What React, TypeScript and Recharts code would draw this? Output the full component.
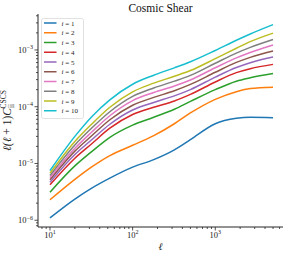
import React from "react";
import { LineChart, Line, XAxis, YAxis, Legend, Label } from "recharts";

// multipole values where the curves were read
const ells = [10, 20, 32, 53, 100, 180, 320, 500, 1000, 1800, 2650, 5000];

// l(l+1) C_ii for each tomographic bin i
const bin1 = [1.1e-6, 2.36e-6, 3.68e-6, 5.52e-6, 8.61e-6, 1.17e-5, 1.74e-5, 2.63e-5, 5.01e-5, 6.24e-5, 6.53e-5, 6.4e-5];
const bin2 = [2.29e-6, 5.25e-6, 8.71e-6, 1.38e-5, 2.09e-5, 3.09e-5, 5.01e-5, 7.76e-5, 1.35e-4, 1.84e-4, 2.09e-4, 2.21e-4];
const bin3 = [3.12e-6, 9.06e-6, 1.62e-5, 2.89e-5, 4.75e-5, 6.53e-5, 9.02e-5, 1.24e-4, 2.0e-4, 2.82e-4, 3.24e-4, 3.85e-4];
const bin4 = [4.21e-6, 1.24e-5, 2.23e-5, 4.18e-5, 7.28e-5, 9.77e-5, 1.26e-4, 1.65e-4, 2.73e-4, 3.98e-4, 4.68e-4, 5.57e-4];
const bin5 = [4.68e-6, 1.44e-5, 2.62e-5, 4.91e-5, 8.75e-5, 1.19e-4, 1.55e-4, 2.0e-4, 3.32e-4, 4.9e-4, 5.96e-4, 7.52e-4];
const bin6 = [5.16e-6, 1.65e-5, 3.08e-5, 5.9e-5, 1.06e-4, 1.46e-4, 1.91e-4, 2.47e-4, 4.04e-4, 6.03e-4, 7.41e-4, 9.57e-4];
const bin7 = [5.6e-6, 1.85e-5, 3.58e-5, 6.93e-5, 1.28e-4, 1.78e-4, 2.32e-4, 2.96e-4, 4.85e-4, 7.24e-4, 9.02e-4, 1.22e-3];
const bin8 = [6.14e-6, 2.12e-5, 4.21e-5, 8.15e-5, 1.52e-4, 2.14e-4, 2.82e-4, 3.56e-4, 5.83e-4, 8.81e-4, 1.11e-3, 1.53e-3];
const bin9 = [6.75e-6, 2.44e-5, 4.94e-5, 9.79e-5, 1.83e-4, 2.6e-4, 3.44e-4, 4.34e-4, 7.02e-4, 1.07e-3, 1.4e-3, 1.98e-3];
const bin10 = [7.5e-6, 3.0e-5, 6.67e-5, 1.32e-4, 2.49e-4, 3.59e-4, 4.84e-4, 6.19e-4, 9.79e-4, 1.48e-3, 1.91e-3, 2.79e-3];

const bins = [bin1, bin2, bin3, bin4, bin5, bin6, bin7, bin8, bin9, bin10];
const binLabels = ["1", "2", "3", "4", "5", "6", "7", "8", "9", "10"];
const colors = [
  "#1f77b4", "#ff7f0e", "#2ca02c", "#d62728", "#9467bd",
  "#8c564b", "#e377c2", "#7f7f7f", "#bcbd22", "#17becf",
];

// ticks (log axes, majors get a 10^n label)
const xTicks = [8, 9, 10, 20, 30, 40, 50, 60, 70, 80, 90, 100, 200, 300, 400, 500, 600, 700, 800, 900, 1000, 2000, 3000, 4000, 5000, 6000];
const xMajor = [10, 100, 1000];
const xExp = ["1", "2", "3"];
const yTicks = [
  8e-7, 9e-7, 1e-6, 2e-6, 3e-6, 4e-6, 5e-6, 6e-6, 7e-6, 8e-6, 9e-6,
  1e-5, 2e-5, 3e-5, 4e-5, 5e-5, 6e-5, 7e-5, 8e-5, 9e-5,
  1e-4, 2e-4, 3e-4, 4e-4, 5e-4, 6e-4, 7e-4, 8e-4, 9e-4,
  1e-3, 2e-3, 3e-3, 4e-3,
];
const yMajor = [1e-6, 1e-5, 1e-4, 1e-3];
const yExp = ["\u22126", "\u22125", "\u22124", "\u22123"];

const data = ells.map((l, k) => {
  const row: Record<string, number> = { l };
  bins.forEach((b, j) => {
    row["s" + (j + 1)] = b[k];
  });
  return row;
});

const FONT = "'Liberation Serif', 'DejaVu Serif', serif";
const AXIS = "#262626";

const XTick = (props: any) => {
  const { x, y, payload } = props;
  const idx = xMajor.indexOf(payload.value);
  const len = idx >= 0 ? 3.5 : 2;
  return (
    <g>
      <line x1={x} x2={x} y1={y} y2={y + len} stroke={AXIS} strokeWidth={0.8} />
      {idx >= 0 && (
        <text x={x} y={y + 10.5} textAnchor="middle" fontFamily={FONT} fontSize={8.5} fill="#222">
          10
          <tspan dy={-3.5} fontSize={6}>{xExp[idx]}</tspan>
        </text>
      )}
    </g>
  );
};

const YTick = (props: any) => {
  const { x, y, payload } = props;
  const idx = yMajor.indexOf(payload.value);
  const len = idx >= 0 ? 3.5 : 2;
  return (
    <g>
      <line x1={x - len} x2={x} y1={y} y2={y} stroke={AXIS} strokeWidth={0.8} />
      {idx >= 0 && (
        <text x={x - 5} y={y + 3} textAnchor="end" fontFamily={FONT} fontSize={8.5} fill="#222">
          10
          <tspan dy={-3.5} fontSize={6}>{yExp[idx]}</tspan>
        </text>
      )}
    </g>
  );
};

const YTitle = (props: any) => {
  const { viewBox } = props;
  const cx = viewBox.x + 11;
  const cy = viewBox.y + viewBox.height / 2;
  return (
    <text
      x={cx}
      y={cy}
      transform={`rotate(-90 ${cx} ${cy})`}
      textAnchor="middle"
      fontFamily={FONT}
      fontSize={11.5}
      fill="#222"
    >
      <tspan fontStyle="italic">{"\u2113(\u2113"}</tspan>
      {" + 1)"}
      <tspan fontStyle="italic">C</tspan>
      <tspan dy={2.5} fontSize={7.5}>ii</tspan>
      <tspan dx={-4.5} dy={-7.5} fontSize={7.5}>CSCS</tspan>
    </text>
  );
};

const XTitle = (props: any) => {
  const { viewBox } = props;
  return (
    <text
      x={viewBox.x + viewBox.width / 2}
      y={viewBox.y + 23}
      textAnchor="middle"
      fontFamily={FONT}
      fontStyle="italic"
      fontSize={10}
      fill="#222"
    >
      {"\u2113"}
    </text>
  );
};

const renderLegend = (props: any) => {
  const items = [...(props.payload || [])].sort(
    (a: any, b: any) => binLabels.indexOf(a.value.split(" = ")[1]) - binLabels.indexOf(b.value.split(" = ")[1])
  );
  return (
    <svg width={43} height={101} style={{ display: "block" }}>
      <rect x={0.5} y={0.5} width={42} height={100} rx={2} fill="rgba(255,255,255,0.8)" stroke="#d9d9d9" strokeWidth={0.8} />
      {items.map((entry: any, k: number) => {
        const cy = 5 + k * 9.75;
        return (
          <g key={entry.value}>
            <line x1={3} x2={15.5} y1={cy} y2={cy} stroke={entry.color} strokeWidth={1.5} />
            <text x={20.5} y={cy + 2.5} fontFamily={FONT} fontSize={7} fill="#222">
              <tspan fontStyle="italic">i</tspan>
              {" = " + entry.value.split(" = ")[1]}
            </text>
          </g>
        );
      })}
    </svg>
  );
};

export default function App() {
  return (
    <div style={{ position: "fixed", left: 0, top: 0, width: 288, height: 255, background: "#fff" }}>
      <div
        style={{
          position: "absolute",
          left: 38,
          width: 245,
          top: 1,
          textAlign: "center",
          fontFamily: FONT,
          fontSize: 11.5,
          color: "#111",
          lineHeight: "14px",
        }}
      >
        Cosmic Shear
      </div>
      <LineChart width={288} height={255} data={data} margin={{ top: 14, right: 5, left: 0, bottom: 0 }}>
        <XAxis
          dataKey="l"
          type="number"
          scale="log"
          domain={[7.16, 6600]}
          allowDataOverflow
          ticks={xTicks}
          interval={0}
          tick={XTick}
          tickLine={false}
          tickSize={0}
          tickMargin={0}
          height={28}
          stroke={AXIS}
        >
          <Label content={XTitle} />
        </XAxis>
        <XAxis
          xAxisId="top"
          orientation="top"
          type="number"
          scale="log"
          domain={[7.16, 6600]}
          allowDataOverflow
          tick={false}
          tickLine={false}
          height={0}
          stroke={AXIS}
        />
        <YAxis
          type="number"
          scale="log"
          domain={[7.6e-7, 4.3e-3]}
          allowDataOverflow
          ticks={yTicks}
          interval={0}
          tick={YTick}
          tickLine={false}
          tickSize={0}
          tickMargin={0}
          width={38}
          stroke={AXIS}
        >
          <Label content={YTitle} />
        </YAxis>
        <YAxis
          yAxisId="right"
          orientation="right"
          type="number"
          scale="log"
          domain={[7.6e-7, 4.3e-3]}
          allowDataOverflow
          tick={false}
          tickLine={false}
          width={0}
          stroke={AXIS}
        />
        <Legend
          layout="vertical"
          align="center"
          verticalAlign="middle"
          content={renderLegend}
          wrapperStyle={{ left: 41, top: 18, width: 43, height: 101 }}
        />
        {bins.map((_, j) => (
          <Line
            key={j}
            type="monotone"
            dataKey={"s" + (j + 1)}
            name={"i = " + binLabels[j]}
            stroke={colors[j]}
            strokeWidth={1.5}
            dot={false}
            isAnimationActive={false}
          />
        ))}
      </LineChart>
    </div>
  );
}
